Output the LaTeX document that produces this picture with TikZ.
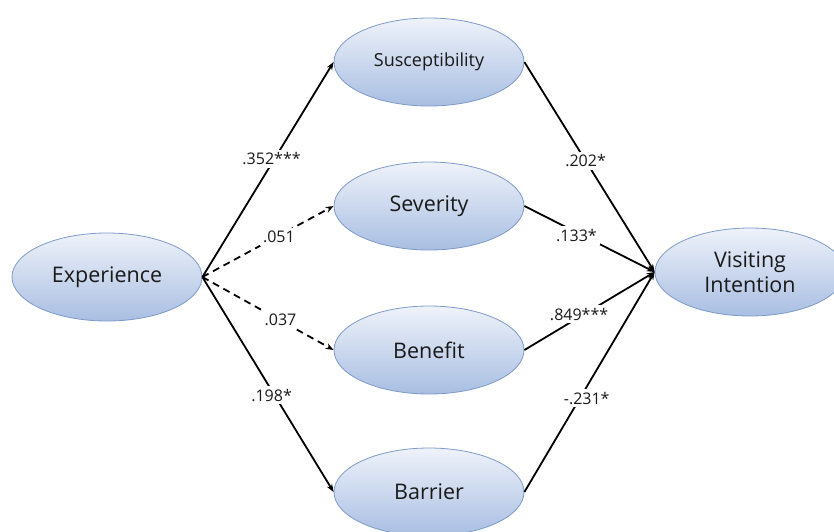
\documentclass[tikz,border=0pt]{standalone}
\usepackage{fontspec}
\setmainfont{Open Sans}
\usetikzlibrary{shapes.geometric,arrows.meta}
\definecolor{edgeblue}{HTML}{7D9AC8}
\definecolor{topblue}{HTML}{EEF2FA}
\definecolor{botblue}{HTML}{A9BEE2}
\definecolor{txt}{HTML}{1A1A1A}
\tikzset{
  latent/.style={ellipse, draw=edgeblue, line width=0.8pt, top color=topblue, bottom color=botblue,
    minimum width=190pt, minimum height=88pt, inner sep=0pt, text=txt, font=\fontsize{21.5}{25}\selectfont, align=center},
  smalltext/.style={font=\fontsize{18}{21}\selectfont},
  path/.style={line width=1.8pt, -{Stealth[length=8pt,width=6pt]}},
  nspath/.style={path, dash pattern=on 7pt off 5pt},
  coef/.style={fill=white, inner sep=3pt, text=txt, font=\fontsize{16}{19}\selectfont}
}
\begin{document}
\begin{tikzpicture}[x=1pt,y=-1pt]
\useasboundingbox (0,0) rectangle (834,531);
\node[latent] (exp) at (107,277) {Experience};
\node[latent, smalltext] (sus) at (429,62) {Susceptibility};
\node[latent] (sev) at (429,206) {Severity};
\node[latent] (ben) at (429,350) {Benefit};
\node[latent] (bar) at (429,492) {Barrier};
\node[latent] (vi) at (750,272) {Visiting\\Intention};

\draw[path] (exp.east) -- node[coef, pos=0.55, xshift=-3pt] {.352***} (sus.west);
\draw[nspath] (exp.east) -- node[coef, pos=0.56, xshift=3pt] {.051} (sev.west);
\draw[nspath] (exp.east) -- node[coef, pos=0.58, xshift=2pt] {.037} (ben.west);
\draw[path] (exp.east) -- node[coef, pos=0.55, xshift=-3pt] {.198*} (bar.west);

\draw[path] (sus.east) -- node[coef, pos=0.47] {.202*} (vi.west);
\draw[path] (sev.east) -- node[coef, pos=0.4, yshift=-3pt] {.133*} (vi.west);
\draw[path] (ben.east) -- node[coef, pos=0.42, yshift=3pt] {.849***} (vi.west);
\draw[path] (bar.east) -- node[coef, pos=0.44, xshift=5pt, yshift=-3pt] {-.231*} (vi.west);
\end{tikzpicture}
\end{document}
